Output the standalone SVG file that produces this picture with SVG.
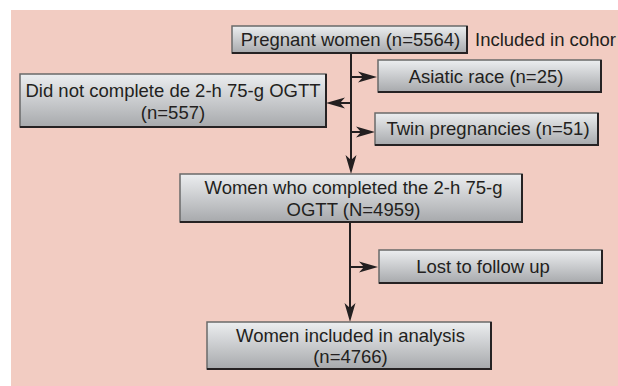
<svg xmlns="http://www.w3.org/2000/svg" width="618" height="386" viewBox="0 0 618 386">
<style>
.box{fill:url(#g);stroke:#6a6a6a;stroke-width:1.5}
.sh{fill:none;stroke:#262223;stroke-width:2}
.t{font-family:"Liberation Sans",Arial,sans-serif;font-size:18.5px;fill:#231f20;text-anchor:middle}
.c{fill:none;stroke:#231f20;stroke-width:2}
</style>
<defs>
<linearGradient id="g" x1="0" y1="0" x2="0" y2="1">
<stop offset="0" stop-color="#eceef0"/>
<stop offset="1" stop-color="#a7a9ac"/>
</linearGradient>
<marker id="ah" markerWidth="20" markerHeight="12" viewBox="0 0 20 12" refX="7" refY="6" orient="auto" markerUnits="userSpaceOnUse">
<path d="M0,0.5 L19,6 L0,11.5 L5,6 Z" fill="#231f20"/>
</marker>
</defs>
<rect x="11" y="10" width="607" height="376" fill="#f2ccc2"/>
<g id="connectors">
<path class="c" d="M351,53 V162" marker-end="url(#ah)"/>
<path class="c" d="M350,222 V310" marker-end="url(#ah)"/>
<path class="c" d="M351,77 H365" marker-end="url(#ah)"/>
<path class="c" d="M351,103 H338" marker-end="url(#ah)"/>
<path class="c" d="M351,132 H363" marker-end="url(#ah)"/>
<path class="c" d="M350,267 H366" marker-end="url(#ah)"/>
</g>
<g id="pregnant">
<rect class="box" x="232" y="26" width="235" height="27"/>
<path class="sh" d="M467,26 V53 H232"/>
<text class="t" x="350.5" y="46">Pregnant women (n=5564)</text>
</g>
<g id="cohort-label">
<text class="t" x="475" y="46" style="text-anchor:start">Included in cohor</text>
</g>
<g id="asiatic">
<rect class="box" x="378" y="60" width="223" height="32"/>
<path class="sh" d="M601,60 V92 H378"/>
<text class="t" x="486" y="83">Asiatic race (n=25)</text>
</g>
<g id="didnot">
<rect class="box" x="20" y="74" width="306" height="53"/>
<path class="sh" d="M326,74 V127 H20"/>
<text class="t" x="173" y="97">Did not complete de 2-h 75-g OGTT</text>
<text class="t" x="173" y="118.5">(n=557)</text>
</g>
<g id="twin">
<rect class="box" x="375" y="113" width="223" height="32"/>
<path class="sh" d="M598,113 V145 H375"/>
<text class="t" x="488" y="135">Twin pregnancies (n=51)</text>
</g>
<g id="completed">
<rect class="box" x="180" y="174" width="342" height="48"/>
<path class="sh" d="M522,174 V222 H180"/>
<text class="t" x="353.5" y="194">Women who completed the 2-h 75-g</text>
<text class="t" x="353.5" y="215.5">OGTT (N=4959)</text>
</g>
<g id="lost">
<rect class="box" x="379" y="250" width="223" height="33"/>
<path class="sh" d="M602,250 V283 H379"/>
<text class="t" x="483" y="273">Lost to follow up</text>
</g>
<g id="included">
<rect class="box" x="207" y="322" width="284" height="47"/>
<path class="sh" d="M491,322 V369 H207"/>
<text class="t" x="350.5" y="342">Women included in analysis</text>
<text class="t" x="350.5" y="363">(n=4766)</text>
</g>
</svg>
